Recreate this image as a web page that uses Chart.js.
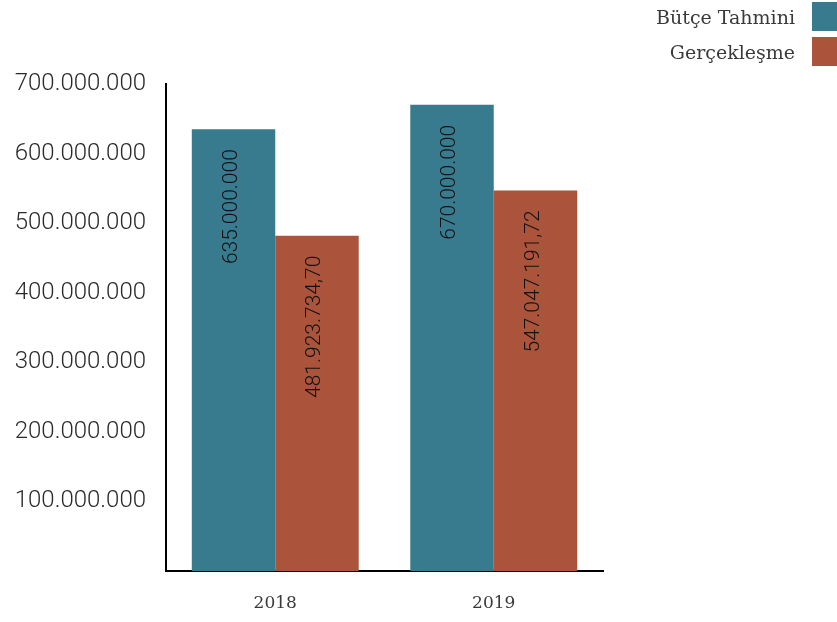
<!DOCTYPE html>
<html><head><meta charset="utf-8">
<script src="https://cdn.jsdelivr.net/npm/chart.js@4"></script>
<style>html,body{margin:0;padding:0;background:#fff}#wrap{width:837px;height:622px}</style>
</head><body><div id="wrap"><canvas id="c" width="837" height="622"></canvas></div>
<script>
const categories = ['2018', '2019'];
const seriesNames = ['Bütçe Tahmini', 'Gerçekleşme'];
const butceTahmini = [635000000, 670000000];
const gerceklesme = [481923734.70, 547047191.72];
const valueLabels = [['635.000.000', '670.000.000'], ['481.923.734,70', '547.047.191,72']];
const yTicks = [100000000, 200000000, 300000000, 400000000, 500000000, 600000000, 700000000];
const colors = ['#397b8e', '#ab533b'];

function fmt(v){ return Math.round(v).toString().replace(/\B(?=(\d{3})+(?!\d))/g,'.'); }

const labelPlugin = {
  id: 'valLabels',
  afterDatasetsDraw(chart){
    const ctx = chart.ctx;
    chart.data.datasets.forEach((ds, di) => {
      chart.getDatasetMeta(di).data.forEach((bar, i) => {
        ctx.save();
        ctx.translate(bar.x - 2, bar.y + 20);
        ctx.rotate(-Math.PI/2);
        ctx.font = '300 21px Roboto';
        ctx.fillStyle = '#111';
        ctx.textAlign = 'right';
        ctx.textBaseline = 'middle';
        ctx.fillText(valueLabels[di][i], 0, 0);
        ctx.restore();
      });
    });
  }
};

const legendPlugin = {
  id: 'customLegend',
  afterDraw(chart){
    const ctx = chart.ctx;
    const W = chart.width;
    chart.data.datasets.forEach((ds, i) => {
      const top = 2 + i * 35;
      ctx.fillStyle = ds.backgroundColor;
      ctx.fillRect(W - 25, top, 25, 29);
      ctx.font = '19px "DejaVu Serif"';
      ctx.fillStyle = '#3a3a3a';
      ctx.textAlign = 'right';
      ctx.textBaseline = 'middle';
      ctx.fillText(ds.label, W - 42, top + 17);
    });
  }
};

new Chart(document.getElementById('c'), {
  type: 'bar',
  data: {
    labels: categories,
    datasets: [
      { label: seriesNames[0], data: butceTahmini, backgroundColor: colors[0] },
      { label: seriesNames[1], data: gerceklesme, backgroundColor: colors[1] }
    ]
  },
  options: {
    responsive: false,
    animation: false,
    devicePixelRatio: 1,
    layout: { padding: { top: 84, right: 234, left: 0, bottom: 0 } },
    datasets: { bar: { barPercentage: 1, categoryPercentage: 0.764 } },
    plugins: { legend: { display: false }, tooltip: { enabled: false } },
    scales: {
      x: {
        grid: { display: false, drawTicks: false },
        border: { display: true, color: '#000', width: 2 },
        ticks: { color: '#3a3a3a', font: { family: 'DejaVu Serif', size: 17 }, padding: 22 },
        afterFit(s){ s.height = 51; }
      },
      y: {
        min: 0, max: 700000000,
        afterBuildTicks(s){ s.ticks = yTicks.map(v => ({ value: v })); },
        grid: { display: false, drawTicks: false },
        border: { display: true, color: '#000', width: 2 },
        ticks: { color: '#2a2a2a', font: { family: 'Roboto', size: 24, weight: 300 }, padding: 20, callback: v => fmt(v) },
        afterFit(s){ s.width = 166; }
      }
    }
  },
  plugins: [labelPlugin, legendPlugin]
});
</script></body></html>
